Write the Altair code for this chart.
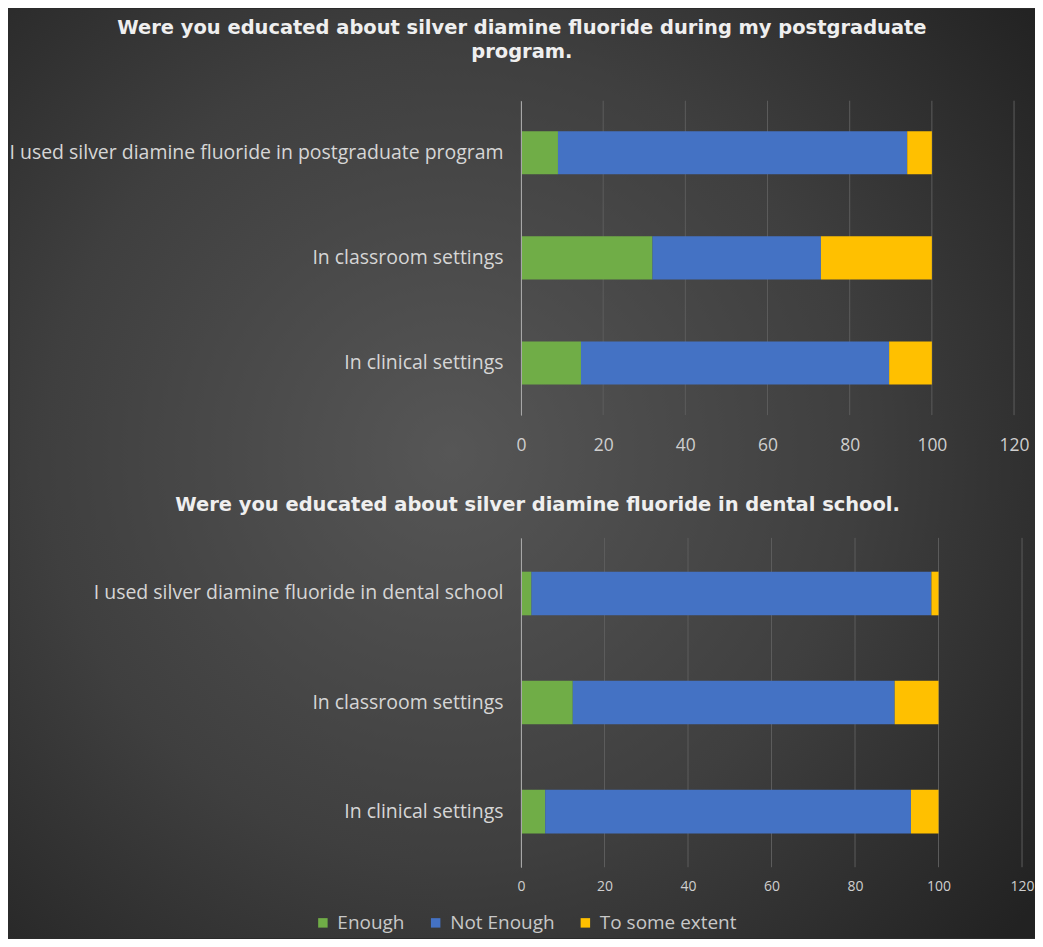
import altair as alt
import pandas as pd

# ---- data ----
series = ["Enough", "Not Enough", "To some extent"]
series_colors = ["#70AD47", "#4472C4", "#FFC000"]
tick_values = [0, 20, 40, 60, 80, 100, 120]

top_title = ["Were you educated about silver diamine fluoride during my postgraduate",
             "program."]
top_categories = ["I used silver diamine fluoride in postgraduate program",
                  "In classroom settings",
                  "In clinical settings"]
top_enough = [9, 32, 14.6]
top_not_enough = [85, 41, 75]
top_some_extent = [6, 27, 10.4]

bottom_title = "Were you educated about silver diamine fluoride in dental school."
bottom_categories = ["I used silver diamine fluoride in dental school",
                     "In classroom settings",
                     "In clinical settings"]
bottom_enough = [2.5, 12.4, 5.8]
bottom_not_enough = [95.8, 77.1, 87.6]
bottom_some_extent = [1.7, 10.5, 6.6]


def make_df(cats, e, n, s):
    rows = []
    for i, c in enumerate(cats):
        for k, vals in enumerate([e, n, s]):
            rows.append({"cat": c, "series": series[k], "value": vals[i], "order": k})
    return pd.DataFrame(rows)


LABEL_FONT = "Open Sans"
TITLE_FONT = "DejaVu Sans"

color_enc = alt.Color(
    "series:N",
    scale=alt.Scale(domain=series, range=series_colors),
    legend=alt.Legend(title=None, orient="none", direction="horizontal",
                      legendX=-208, legendY=814, symbolType="square",
                      symbolSize=90, symbolStrokeWidth=0, labelFontSize=19,
                      labelFont=LABEL_FONT, labelColor="#c8c8c8",
                      columnPadding=21, labelOffset=5, zindex=1),
)


def panel(df, cats, title, w, h, pi, po, xfont, xpad, ypad, title_offset,
          title_dx, with_bg):
    xscale = alt.Scale(domain=[0, 120], nice=False)
    xaxis = alt.Axis(values=tick_values, title=None, grid=False,
                     domain=False, ticks=False, labelFontSize=xfont,
                     labelPadding=xpad, labelFont=LABEL_FONT, labelFlush=False,
                     labelColor="#cfcfcf", zindex=1)
    grid = alt.Chart(pd.DataFrame({"t": tick_values})).mark_rule(
        color="#5c5c5c", strokeWidth=1
    ).encode(x=alt.X("t:Q", scale=xscale, axis=xaxis))
    bars = alt.Chart(df).mark_bar().encode(
        x=alt.X("value:Q", stack="zero", scale=xscale, axis=xaxis),
        y=alt.Y("cat:N", sort=cats,
                scale=alt.Scale(paddingInner=pi, paddingOuter=po),
                axis=alt.Axis(title=None, ticks=False, domain=True,
                              domainColor="#a8a8a8", domainWidth=1,
                              labelFontSize=19.5, labelFont=LABEL_FONT,
                              labelColor="#d6d6d6", labelPadding=ypad,
                              labelLimit=600, zindex=1)),
        color=color_enc,
        order=alt.Order("order:Q"),
    )
    layers = [grid, bars]
    if with_bg:
        bg = alt.Chart(pd.DataFrame({"a": [0]})).mark_rect(
            fill=alt.RadialGradient(
                gradient="radial",
                stops=[alt.GradientStop(offset=0, color="#565656"),
                       alt.GradientStop(offset=0.55, color="#3f3f3f"),
                       alt.GradientStop(offset=1, color="#222222")],
                x1=0.43, y1=0.48, r1=0, x2=0.43, y2=0.48, r2=0.72),
        ).encode(x=alt.value(-512), x2=alt.value(515),
                 y=alt.value(-92), y2=alt.value(839))
        layers = [bg] + layers
    return alt.layer(*layers).properties(
        width=w, height=h,
        title=alt.TitleParams(text=title, anchor="middle", frame="bounds",
                              font=TITLE_FONT, fontSize=19.5, fontWeight="bold",
                              color="#efefef", offset=title_offset,
                              dx=title_dx, lineHeight=24),
    )


top = panel(make_df(top_categories, top_enough, top_not_enough, top_some_extent),
            top_categories, top_title, 494, 315, 0.59, 0.29, 17.5, 21, 18, -54, 0, True)
bottom = panel(make_df(bottom_categories, bottom_enough, bottom_not_enough, bottom_some_extent),
               bottom_categories, bottom_title, 502, 330, 0.6, 0.31, 14, 12, 18, 22, -26, False)

chart = alt.vconcat(top, bottom, spacing=123, bounds="flush").resolve_scale(
    color="shared"
).configure(
    background="#2b2b2b", padding=0
).configure_view(stroke=None)

chart.save("out.html", embed_options={"renderer": "svg", "actions": False})
